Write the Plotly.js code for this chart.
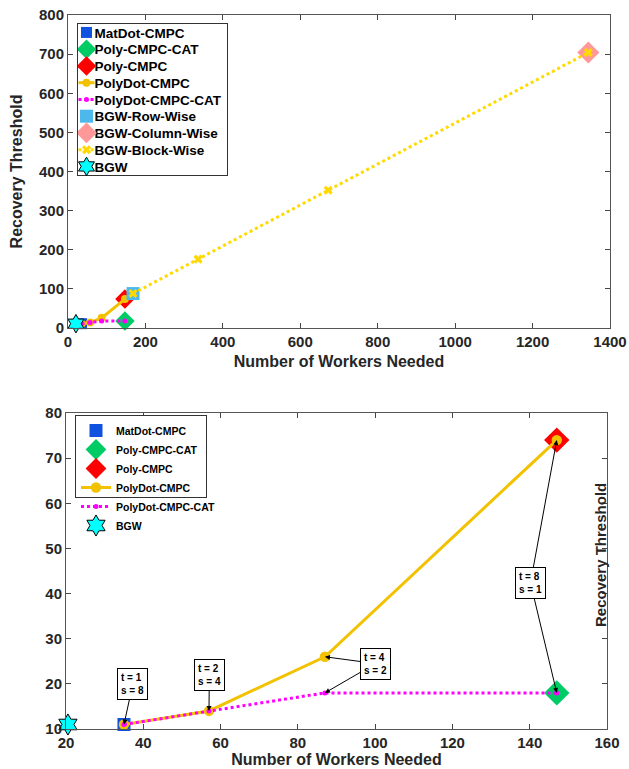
<!DOCTYPE html>
<html>
<head>
<meta charset="utf-8">
<script src="https://cdn.plot.ly/plotly-3.0.1.min.js"></script>
<style>html,body{margin:0;padding:0;background:#fff;}#chart{width:629px;height:769px;}</style>
</head>
<body>
<div id="chart"></div>
<script>
// Data
const matdotX = [35], matdotY = [11];
const polyCatX = [147], polyCatY = [18];
const polyX = [147], polyY = [74];
const polydotX = [35, 57, 87, 147], polydotY = [11, 14, 26, 74];
const polydotCatX = [35, 57, 87, 147], polydotCatY = [11, 14, 18, 18];
const bgwRowX = [168], bgwRowY = [88];
const bgwColX = [1344], bgwColY = [704];
const bgwBlockX = [168, 336, 672, 1344], bgwBlockY = [88, 176, 352, 704];
const bgwX = [20.5], bgwY = [11];
const annoLabels = ["t = 1<br>s = 8", "t = 2<br>s = 4", "t = 4<br>s = 2", "t = 8<br>s = 1"];
const annoBoxX = [37.3, 57.1, 100.1, 140.2];
const annoBoxY = [20.0, 22.0, 24.5, 42.4];
const annoTargets = [[[35, 11]], [[57, 14]], [[87, 26], [87, 18]], [[147, 74], [147, 18]]];

const FONT = 'Liberation Sans, Arial, sans-serif';
const cBlue = '#0f52e0', cGreen = '#00cc66', cRed = '#ff0000', cGold = '#f2c200',
      cMag = '#ff00ff', cLBlue = '#4db8ec', cPink = '#ff9999', cYel = '#ffd900', cCyan = '#00ffff';

function mk(x, y, name, ax, lg, props) {
  return Object.assign({x: x, y: y, name: name, type: 'scatter', xaxis: ax[0], yaxis: ax[1], legend: lg, cliponaxis: false}, props);
}
const axTop = ['x', 'y'], axBot = ['x2', 'y2'];
function common(ax, lg, big) {
  const s = big ? 1.3 : 1;
  return [
    mk(matdotX, matdotY, 'MatDot-CMPC', ax, lg, {mode: 'markers', marker: {symbol: 'square', size: (big ? 13 : 11), color: cBlue}}),
    mk(polyCatX, polyCatY, 'Poly-CMPC-CAT', ax, lg, {mode: 'markers', marker: {symbol: 'diamond', size: 15*s, color: cGreen}}),
    mk(polyX, polyY, 'Poly-CMPC', ax, lg, {mode: 'markers', marker: {symbol: 'diamond', size: 15*s, color: cRed}}),
    mk(polydotX, polydotY, 'PolyDot-CMPC', ax, lg, {mode: 'lines+markers', line: {color: cGold, width: 3}, marker: {symbol: 'circle', size: 8*s, color: cGold}}),
    mk(polydotCatX, polydotCatY, 'PolyDot-CMPC-CAT', ax, lg, {mode: 'lines+markers', line: {color: cMag, width: 3, dash: 'dot'}, marker: {symbol: 'circle', size: 5, color: cMag}})
  ];
}
const bgwTop = mk(bgwX, bgwY, 'BGW', axTop, 'legend', {mode: 'markers', marker: {symbol: 'hexagram', size: 14, color: cCyan, line: {color: '#000', width: 1}}});
const bgwBot = mk(bgwX, bgwY, 'BGW', axBot, 'legend2', {mode: 'markers', marker: {symbol: 'hexagram', size: 16, color: cCyan, line: {color: '#000', width: 1}}});

const traces = [].concat(
  common(axTop, 'legend', false),
  [
    mk(bgwRowX, bgwRowY, 'BGW-Row-Wise', axTop, 'legend', {mode: 'markers', marker: {symbol: 'square', size: 13, color: cLBlue}}),
    mk(bgwColX, bgwColY, 'BGW-Column-Wise', axTop, 'legend', {mode: 'markers', marker: {symbol: 'diamond', size: 17, color: cPink}}),
    mk(bgwBlockX, bgwBlockY, 'BGW-Block-Wise', axTop, 'legend', {mode: 'lines+markers', line: {color: cYel, width: 3, dash: 'dot'}, marker: {symbol: 'x', size: 8, color: cYel}}),
    bgwTop
  ],
  common(axBot, 'legend2', true),
  [bgwBot]
);

const annotations = [];
annoLabels.forEach((t, i) => {
  annoTargets[i].forEach(tg => {
    annotations.push({
      xref: 'x2', yref: 'y2', x: tg[0], y: tg[1], axref: 'x2', ayref: 'y2', ax: annoBoxX[i], ay: annoBoxY[i],
      text: t, showarrow: true, arrowhead: 2, arrowsize: 1, arrowwidth: 1, arrowcolor: '#000',
      font: {family: FONT, size: 10, color: '#000', weight: 'bold'}, align: 'left',
      bgcolor: '#fff', bordercolor: '#000', borderwidth: 1, borderpad: 3
    });
  });
});
annotations.push({
  xref: 'paper', yref: 'paper', x: 600/629, y: 1 - 555/769, text: 'Recovery Threshold', showarrow: false,
  textangle: -90, font: {family: FONT, size: 15, color: '#262626', weight: 'bold'}, xanchor: 'center', yanchor: 'middle'
});

const axBase = {
  showgrid: false, zeroline: false, showline: true, linecolor: '#555', linewidth: 1, mirror: 'ticks',
  ticks: 'inside', ticklen: 5, tickcolor: '#444', tickfont: {family: FONT, size: 15, color: '#262626', weight: 'bold'}
};
const titleFont = {family: FONT, size: 16, color: '#262626', weight: 'bold'};

const layout = {
  width: 629, height: 769, margin: {l: 0, r: 0, t: 0, b: 0}, paper_bgcolor: '#fff', plot_bgcolor: '#fff',
  font: {family: FONT, weight: 'bold'},
  xaxis: Object.assign({}, axBase, {domain: [68/629, 610/629], range: [0, 1400], dtick: 200, anchor: 'y',
    title: {text: 'Number of Workers Needed', font: titleFont, standoff: 6}}),
  yaxis: Object.assign({}, axBase, {domain: [1 - 328/769, 1 - 15/769], range: [0, 800], dtick: 100, anchor: 'x',
    title: {text: 'Recovery Threshold', font: titleFont, standoff: 12}}),
  xaxis2: Object.assign({}, axBase, {domain: [66/629, 607/629], range: [20, 160], dtick: 20, anchor: 'y2',
    title: {text: 'Number of Workers Needed', font: titleFont, standoff: 1}}),
  yaxis2: Object.assign({}, axBase, {domain: [1 - 729/769, 1 - 413/769], range: [10, 80], dtick: 10, anchor: 'x2'}),
  legend: {x: 77/629, y: 1 - 23/769, xanchor: 'left', yanchor: 'top', bgcolor: '#fff', bordercolor: '#333', borderwidth: 1,
    font: {family: FONT, size: 13.5, color: '#000', weight: 'bold'}, tracegroupgap: 0, itemwidth: 30},
  legend2: {x: 75/629, y: 1 - 415/769, xanchor: 'left', yanchor: 'top', bgcolor: '#fff', bordercolor: '#333', borderwidth: 1,
    font: {family: FONT, size: 10.5, color: '#000', weight: 'bold'}, tracegroupgap: 0, itemwidth: 30},
  annotations: annotations,
  showlegend: true
};

// ---- compact legend boxes to the reference's tighter spacing (idempotent) ----
function parseTranslate(s) {
  const m = /translate\(\s*([-\d.e]+)[ ,]+([-\d.e]+)\s*\)/.exec(s || '');
  return m ? [parseFloat(m[1]), parseFloat(m[2])] : [0, 0];
}
function compactLegend(lg, o) {
  let bg = null;
  for (const ch of lg.children) { if (ch.tagName.toLowerCase() === 'rect' && /(^|\s)bg(\s|$)/.test(ch.getAttribute('class') || '')) { bg = ch; break; } }
  if (!bg) bg = lg.querySelector('rect.bg');
  const items = Array.from(lg.querySelectorAll('g.traces'));
  if (!bg || !items.length) return;
  bg.setAttribute('height', o.height);
  bg.setAttribute('width', o.width);
  const bgR = bg.getBoundingClientRect();
  const L = bgR.left, T = bgR.top;
  const t0 = items[0].querySelector('text.legendtext');
  if (!t0) return;
  const r0 = t0.getBoundingClientRect();
  const cy0 = r0.top + r0.height / 2;
  const base = parseTranslate(items[0].getAttribute('transform'));
  const dy = (T + o.first) - cy0;
  items.forEach((g, i) => {
    const tr = parseTranslate(g.getAttribute('transform'));
    g.setAttribute('transform', 'translate(' + tr[0] + ',' + (base[1] + dy + i * o.step) + ')');
  });
  items.forEach(g => {
    const t = g.querySelector('text.legendtext');
    if (t) {
      const r = t.getBoundingClientRect();
      const dx = (L + o.textX) - r.left;
      const nx = parseFloat(t.getAttribute('x') || 0) + dx;
      t.setAttribute('x', nx);
      t.querySelectorAll('tspan').forEach(ts => { if (ts.hasAttribute('x')) ts.setAttribute('x', nx); });
    }
    g.querySelectorAll('.legendlines path').forEach(p => {
      const d = p.getAttribute('d') || '';
      const m = /^M([-\d.]+),([-\d.]+)h([-\d.]+)$/.exec(d);
      if (m) {
        const c = parseFloat(m[1]) + parseFloat(m[3]) / 2;
        p.setAttribute('d', 'M' + (c - o.lineLen / 2) + ',' + m[2] + 'h' + o.lineLen);
      }
    });
    const sym = g.querySelector('.legendsymbols') || g.querySelector('.legendlines');
    const layer = sym ? sym.parentNode : null;
    if (!layer) return;
    const cur = layer.getAttribute('transform') || '';
    const baseT = (layer.__set !== undefined && cur === layer.__set) ? layer.__base : cur;
    layer.setAttribute('transform', baseT);
    const r = layer.getBoundingClientRect();
    const dx = (L + o.symX) - (r.left + r.width / 2);
    const val = 'translate(' + dx + ',0) ' + baseT;
    layer.setAttribute('transform', val);
    layer.__base = baseT; layer.__set = val;
  });
}

const legTop = {first: 9.7, step: 16.75, textX: 17, symX: 9, lineLen: 16, height: 152, width: 150};
const legBot = {first: 10, step: 13.2, textX: 22, symX: 13, lineLen: 16, height: 82, width: 131};

const gdEl = document.getElementById('chart');
let observer = null, busy = false;
function compactAll() {
  if (busy) return;
  busy = true;
  try {
    const seen = new Set();
    gdEl.querySelectorAll('g.traces').forEach(it => {
      let lg = it.parentNode;
      while (lg && lg !== gdEl) {
        const c = ((lg.getAttribute && lg.getAttribute('class')) || '').trim().split(/\s+/)[0];
        if (/^legend\d*$/.test(c)) break;
        lg = lg.parentNode;
      }
      if (!lg || lg === gdEl || seen.has(lg)) return;
      seen.add(lg);
      const id = lg.getAttribute('class').trim().split(/\s+/)[0];
      try { compactLegend(lg, id === 'legend' ? legTop : legBot); } catch (e) { console.log(e); }
    });
  } finally {
    if (observer) observer.takeRecords();
    busy = false;
  }
}
observer = new MutationObserver(() => compactAll());
observer.observe(gdEl, {subtree: true, childList: true, attributes: true});

Plotly.newPlot(gdEl, traces, layout, {staticPlot: true, displayModeBar: false}).then(gd => {
  compactAll();
  if (gd.on) gd.on('plotly_afterplot', compactAll);
  [20, 100, 300, 800].forEach(t => setTimeout(compactAll, t));
  setTimeout(() => observer.disconnect(), 1500);
});
</script>
</body>
</html>
